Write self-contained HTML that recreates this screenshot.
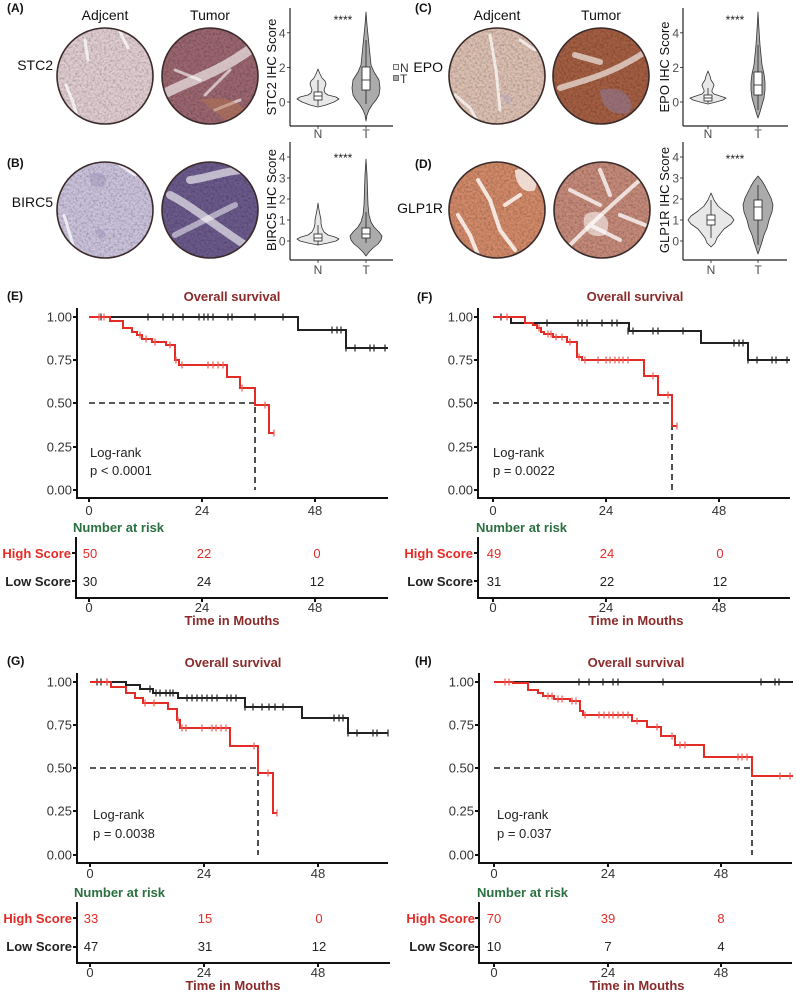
<!DOCTYPE html>
<html><head><meta charset="utf-8"><style>
html,body{margin:0;padding:0;background:#fff;}
svg{display:block;}
text{font-family:"Liberation Sans",Arial,sans-serif;}
.lab{font-size:12px;font-weight:bold;fill:#111;}
.tk{font-size:13px;fill:#333;}
.vt{font-size:12px;fill:#4d4d4d;}
.ttl{font-size:13px;font-weight:bold;fill:#8b2a2a;}
.ax{stroke:#111;stroke-width:2;fill:none;}
.vax{stroke:#222;stroke-width:1.2;fill:none;}
.blk{stroke:#222;stroke-width:2;fill:none;}
.red{stroke:#e42c27;stroke-width:2;fill:none;}
.cb{stroke:#222;stroke-width:1.2;fill:none;}
.cr{stroke:#ee5a55;stroke-width:1.2;fill:none;}
.dash{stroke:#222;stroke-width:1.6;fill:none;stroke-dasharray:6,4;}
.vn{fill:#e8e8e8;stroke:#333;stroke-width:0.8;stroke-linejoin:round;}
.vtm{fill:#ababab;stroke:#333;stroke-width:0.8;stroke-linejoin:round;}
.box{fill:#fff;stroke:#222;stroke-width:0.8;}
.wh{stroke:#222;stroke-width:0.8;}
.hi{font-size:13px;font-weight:bold;fill:#e42c27;}
.lo{font-size:13px;font-weight:bold;fill:#222;}
.nr{font-size:13px;font-weight:bold;fill:#2a7040;}
.rn{font-size:13px;fill:#e42c27;}
.bn{font-size:13px;fill:#222;}
.gene{font-size:14px;fill:#111;}
.hd{font-size:14px;fill:#111;}
.str{fill:none;stroke:#fff;stroke-linecap:round;}
</style></head><body>
<svg width="796" height="992" viewBox="0 0 796 992" xmlns="http://www.w3.org/2000/svg">
<defs>
<filter id="tx" x="0" y="0" width="100%" height="100%">
<feTurbulence type="fractalNoise" baseFrequency="0.45" numOctaves="3" seed="7"/>
<feColorMatrix type="matrix" values="0 0 0 0 0  0 0 0 0 0  0 0 0 0 0  1.0 0 0 0 -0.38"/>
<feComposite in2="SourceGraphic" operator="in"/>
<feComposite in2="SourceGraphic" operator="over"/>
</filter>
<clipPath id="c1"><circle cx="105" cy="76" r="48"/></clipPath>
<clipPath id="c2"><circle cx="210" cy="76" r="48"/></clipPath>
<clipPath id="c3"><circle cx="105" cy="210" r="48"/></clipPath>
<clipPath id="c4"><circle cx="210" cy="210" r="48"/></clipPath>
<clipPath id="c5"><circle cx="497" cy="76" r="48"/></clipPath>
<clipPath id="c6"><circle cx="601" cy="76" r="48"/></clipPath>
<clipPath id="c7"><circle cx="497" cy="210" r="48"/></clipPath>
<clipPath id="c8"><circle cx="602" cy="210" r="48"/></clipPath>
</defs>

<!-- ===== Panel A ===== -->
<text class="lab" x="7" y="12">(A)</text>
<text class="hd" x="105" y="20" text-anchor="middle">Adjcent</text>
<text class="hd" x="210" y="20" text-anchor="middle">Tumor</text>
<text class="gene" x="53" y="70" text-anchor="end">STC2</text>
<g clip-path="url(#c1)"><rect x="57" y="28" width="96" height="96" fill="#e0cdd2" filter="url(#tx)"/>
<path class="str" stroke-width="3" opacity="0.7" d="M66,85 L72,100 L78,118 M85,40 L88,60 M120,32 L128,48"/></g>
<circle cx="105" cy="76" r="48" fill="none" stroke="#3b2b2b" stroke-width="1.6"/>
<g clip-path="url(#c2)"><rect x="162" y="28" width="96" height="96" fill="#9b6670" filter="url(#tx)"/>
<path class="str" stroke="#d8cde0" stroke-width="10" opacity="0.6" d="M168,92 C190,80 215,75 252,48"/>
<path class="str" stroke-width="3" opacity="0.6" d="M175,70 L200,80 M205,95 L230,70 M215,110 L240,100"/>
<path fill="#b8774d" opacity="0.45" d="M200,100 C220,95 240,100 250,115 L230,124 Z"/></g>
<circle cx="210" cy="76" r="48" fill="none" stroke="#3b2b2b" stroke-width="1.6"/>
<!-- violin A -->
<line class="vax" x1="290" y1="8" x2="290" y2="126"/><line class="vax" x1="290" y1="126" x2="393" y2="126"/>
<g class="wh"><line x1="287" y1="102" x2="290" y2="102"/><line x1="287" y1="67.4" x2="290" y2="67.4"/><line x1="287" y1="32.8" x2="290" y2="32.8"/><line x1="318" y1="126" x2="318" y2="129"/><line x1="366" y1="126" x2="366" y2="129"/></g>
<text class="vt" x="285.5" y="106.5" text-anchor="end">0</text><text class="vt" x="285.5" y="72" text-anchor="end">2</text><text class="vt" x="285.5" y="37.3" text-anchor="end">4</text>
<text class="vt" x="318" y="138" text-anchor="middle">N</text><text class="vt" x="366" y="138" text-anchor="middle">T</text>
<text class="hd" style="font-size:13px" transform="translate(276,67) rotate(-90)" text-anchor="middle">STC2 IHC Score</text>
<text x="343" y="24" text-anchor="middle" style="font-size:12px;fill:#222">****</text>
<polygon class="vn" points="318,107 326,105 334,102 339,99 336,97 328,95 325,93 324,90 325,87 326,84 325,81 322,78 320,74 318,69 316,74 314,78 311,81 310,84 311,87 312,90 311,93 308,95 300,97 297,99 302,102 310,105"/>
<polygon class="vtm" points="366,121 367,115 369,110 372,105 376,100 379,95 380,88 379,80 374,72 371,65 370,55 369,45 368,35 367,25 366,12 365,25 364,35 363,45 362,55 361,65 358,72 353,80 352,88 353,95 356,100 360,105 363,110 365,115"/>
<line class="wh" x1="318" y1="80" x2="318" y2="106"/><rect class="box" x="314" y="92" width="8" height="8"/><line class="wh" x1="314" y1="96" x2="322" y2="96"/>
<line class="wh" x1="366" y1="40" x2="366" y2="104"/><rect class="box" x="362" y="67" width="8" height="23"/><line class="wh" x1="362" y1="80" x2="370" y2="80"/>
<!-- legend -->
<rect x="393.5" y="64.5" width="5" height="5" fill="#eee" stroke="#555" stroke-width="0.8"/>
<rect x="393.5" y="75.5" width="5" height="5" fill="#aaa" stroke="#555" stroke-width="0.8"/>
<text x="400" y="72" style="font-size:12px;fill:#333">N</text><text x="400" y="83" style="font-size:12px;fill:#333">T</text>

<!-- ===== Panel B ===== -->
<text class="lab" x="7" y="167">(B)</text>
<text class="gene" x="53" y="207" text-anchor="end">BIRC5</text>
<g clip-path="url(#c3)"><rect x="57" y="162" width="96" height="96" fill="#cbc3dc" filter="url(#tx)"/>
<path class="str" stroke-width="3" opacity="0.7" d="M64,215 L70,235 L75,252 M120,165 L135,175"/>
<path fill="#8e80b0" opacity="0.35" d="M90,175 C100,170 110,175 105,185 C98,190 88,185 90,175 Z M95,230 C105,228 110,235 100,240 Z"/></g>
<circle cx="105" cy="210" r="48" fill="none" stroke="#3b2b2b" stroke-width="1.6"/>
<g clip-path="url(#c4)"><rect x="162" y="162" width="96" height="96" fill="#6b5a8c" filter="url(#tx)"/>
<path class="str" stroke="#b4b0d6" stroke-width="8" opacity="0.6" d="M170,195 C190,205 210,222 245,245 M190,180 C210,178 230,168 255,170"/>
<path class="str" stroke="#a8a0cc" stroke-width="6" opacity="0.5" d="M175,235 C195,225 215,215 235,205"/></g>
<circle cx="210" cy="210" r="48" fill="none" stroke="#3b2b2b" stroke-width="1.6"/>
<!-- violin B -->
<line class="vax" x1="290" y1="142" x2="290" y2="260"/><line class="vax" x1="290" y1="260" x2="393" y2="260"/>
<g class="wh"><line x1="287" y1="241" x2="290" y2="241"/><line x1="287" y1="220" x2="290" y2="220"/><line x1="287" y1="199" x2="290" y2="199"/><line x1="287" y1="178" x2="290" y2="178"/><line x1="287" y1="157" x2="290" y2="157"/><line x1="318" y1="260" x2="318" y2="263"/><line x1="366" y1="260" x2="366" y2="263"/></g>
<text class="vt" x="285.5" y="245.5" text-anchor="end">0</text><text class="vt" x="285.5" y="224.5" text-anchor="end">1</text><text class="vt" x="285.5" y="203.5" text-anchor="end">2</text><text class="vt" x="285.5" y="182.5" text-anchor="end">3</text><text class="vt" x="285.5" y="161.5" text-anchor="end">4</text>
<text class="vt" x="318" y="274" text-anchor="middle">N</text><text class="vt" x="366" y="274" text-anchor="middle">T</text>
<text class="hd" style="font-size:13px" transform="translate(276,200) rotate(-90)" text-anchor="middle">BIRC5 IHC Score</text>
<text x="343" y="162" text-anchor="middle" style="font-size:12px;fill:#222">****</text>
<polygon class="vn" points="318,245 328,243 336,241 339,239 335,237 328,235 324,232 322,228 321,224 321,220 320,215 319,210 318,203 317,210 316,215 315,220 315,224 314,228 312,232 308,235 301,237 297,239 300,241 308,243"/>
<polygon class="vtm" points="366,256 369,252 373,248 378,244 381,240 382,236 379,232 374,227 371,222 369,215 368,205 367.5,190 367,175 366,159 365,175 364.5,190 364,205 363,215 361,222 358,227 353,232 350,236 351,240 354,244 359,248 363,252"/>
<line class="wh" x1="318" y1="225" x2="318" y2="245"/><rect class="box" x="314" y="234" width="8" height="7"/><line class="wh" x1="314" y1="238" x2="322" y2="238"/>
<line class="wh" x1="366" y1="212" x2="366" y2="243"/><rect class="box" x="362" y="228" width="8" height="10"/><line class="wh" x1="362" y1="234" x2="370" y2="234"/>

<!-- ===== Panel C ===== -->
<text class="lab" x="415" y="12">(C)</text>
<text class="hd" x="497" y="20" text-anchor="middle">Adjcent</text>
<text class="hd" x="601" y="20" text-anchor="middle">Tumor</text>
<text class="gene" x="443" y="72" text-anchor="end">EPO</text>
<g clip-path="url(#c5)"><rect x="449" y="28" width="96" height="96" fill="#dcc0b2" filter="url(#tx)"/>
<path class="str" stroke-width="3" opacity="0.7" d="M455,95 L470,108 L478,122 M490,35 L496,70 L500,110 M520,40 L535,50"/>
<path fill="#a9a0c8" opacity="0.35" d="M500,95 C510,92 515,100 508,105 Z"/></g>
<circle cx="497" cy="76" r="48" fill="none" stroke="#3b2b2b" stroke-width="1.6"/>
<g clip-path="url(#c6)"><rect x="553" y="28" width="96" height="96" fill="#a45e42" filter="url(#tx)"/>
<path class="str" stroke="#e6dbe6" stroke-width="6" opacity="0.6" d="M560,88 C585,80 610,75 645,52 M575,55 L600,62"/>
<path fill="#8a80b0" opacity="0.45" d="M600,90 C620,85 635,95 630,112 C615,118 600,108 600,90 Z"/></g>
<circle cx="601" cy="76" r="48" fill="none" stroke="#3b2b2b" stroke-width="1.6"/>
<!-- violin C -->
<line class="vax" x1="683" y1="8" x2="683" y2="126"/><line class="vax" x1="683" y1="126" x2="788" y2="126"/>
<g class="wh"><line x1="680" y1="102" x2="683" y2="102"/><line x1="680" y1="67.4" x2="683" y2="67.4"/><line x1="680" y1="32.8" x2="683" y2="32.8"/><line x1="708" y1="126" x2="708" y2="129"/><line x1="758" y1="126" x2="758" y2="129"/></g>
<text class="vt" x="679" y="106.5" text-anchor="end">0</text><text class="vt" x="679" y="72" text-anchor="end">2</text><text class="vt" x="679" y="37.3" text-anchor="end">4</text>
<text class="vt" x="708" y="138" text-anchor="middle">N</text><text class="vt" x="758" y="138" text-anchor="middle">T</text>
<text class="hd" style="font-size:13px" transform="translate(669,67) rotate(-90)" text-anchor="middle">EPO IHC Score</text>
<text x="735" y="24" text-anchor="middle" style="font-size:12px;fill:#222">****</text>
<polygon class="vn" points="708,104 716,102 723,100 726,98 720,96 714,94 712,92 712,90 713,88 714,85 713,83 711,80 710,76 708,71 706,76 705,80 703,83 702,85 703,88 704,90 704,92 702,94 696,96 690,98 693,100 700,102"/>
<polygon class="vtm" points="758,118 760,112 762,105 764,98 765,90 765,82 764,74 762,65 761,55 760,45 759,30 758,12 757,30 756,45 755,55 754,65 752,74 751,82 751,90 752,98 754,105 756,112"/>
<line class="wh" x1="708" y1="88" x2="708" y2="103"/><rect class="box" x="704" y="95" width="8" height="6"/><line class="wh" x1="704" y1="98" x2="712" y2="98"/>
<line class="wh" x1="758" y1="45" x2="758" y2="110"/><rect class="box" x="754" y="72" width="8" height="23"/><line class="wh" x1="754" y1="85" x2="762" y2="85"/>

<!-- ===== Panel D ===== -->
<text class="lab" x="415" y="168">(D)</text>
<text class="gene" x="443" y="213" text-anchor="end">GLP1R</text>
<g clip-path="url(#c7)"><rect x="449" y="162" width="96" height="96" fill="#d28a69" filter="url(#tx)"/>
<path class="str" stroke-width="4" opacity="0.8" d="M458,215 L470,235 L478,255 M478,180 L490,200 L500,230 L515,250 M505,205 L520,195"/>
<path fill="#fff" opacity="0.7" d="M515,170 C530,165 540,175 535,190 C525,195 515,185 515,170 Z"/></g>
<circle cx="497" cy="210" r="48" fill="none" stroke="#3b2b2b" stroke-width="1.6"/>
<g clip-path="url(#c8)"><rect x="554" y="162" width="96" height="96" fill="#c58a7a" filter="url(#tx)"/>
<path class="str" stroke-width="4" opacity="0.75" d="M565,250 C585,230 600,215 640,180 M570,190 L600,205 M590,225 L620,240 M600,170 L610,195 M620,215 L645,225"/>
<path fill="#fff" opacity="0.55" d="M585,215 C600,205 615,220 605,235 C590,240 580,228 585,215 Z"/></g>
<circle cx="602" cy="210" r="48" fill="none" stroke="#3b2b2b" stroke-width="1.6"/>
<!-- violin D -->
<line class="vax" x1="683" y1="142" x2="683" y2="260"/><line class="vax" x1="683" y1="260" x2="787" y2="260"/>
<g class="wh"><line x1="680" y1="241" x2="683" y2="241"/><line x1="680" y1="220" x2="683" y2="220"/><line x1="680" y1="199" x2="683" y2="199"/><line x1="680" y1="178" x2="683" y2="178"/><line x1="680" y1="157" x2="683" y2="157"/><line x1="711" y1="260" x2="711" y2="263"/><line x1="758" y1="260" x2="758" y2="263"/></g>
<text class="vt" x="679" y="245.5" text-anchor="end">0</text><text class="vt" x="679" y="224.5" text-anchor="end">1</text><text class="vt" x="679" y="203.5" text-anchor="end">2</text><text class="vt" x="679" y="182.5" text-anchor="end">3</text><text class="vt" x="679" y="161.5" text-anchor="end">4</text>
<text class="vt" x="711" y="274" text-anchor="middle">N</text><text class="vt" x="758" y="274" text-anchor="middle">T</text>
<text class="hd" style="font-size:13px" transform="translate(669,200) rotate(-90)" text-anchor="middle">GLP1R IHC Score</text>
<text x="735" y="163" text-anchor="middle" style="font-size:12px;fill:#222">****</text>
<polygon class="vn" points="711,247 715,243 717,238 720,234 724,229 731,224 734,220 731,216 724,211 718,206 714,200 711,193 708,200 704,206 698,211 691,216 688,220 691,224 698,229 702,234 705,238 707,243"/>
<polygon class="vtm" points="758,254 760,248 762,242 764,235 767,228 769,220 772,212 773,205 771,198 768,192 765,186 762,181 758,176 754,181 751,186 748,192 745,198 743,205 744,212 747,220 749,228 752,235 754,242 756,248"/>
<line class="wh" x1="711" y1="200" x2="711" y2="238"/><rect class="box" x="707" y="215" width="8" height="10"/><line class="wh" x1="707" y1="220" x2="715" y2="220"/>
<line class="wh" x1="758" y1="185" x2="758" y2="245"/><rect class="box" x="754" y="200" width="8" height="20"/><line class="wh" x1="754" y1="207" x2="762" y2="207"/>

<!-- ===== Panel E ===== -->
<text class="lab" x="7" y="300">(E)</text>
<text class="ttl" x="232" y="301" text-anchor="middle">Overall survival</text>
<path class="ax" d="M77,308 V498 H388"/>
<path class="ax" stroke-width="1.2" d="M73,317h4 M73,360h4 M73,403h4 M73,447h4 M73,490h4 M89,498v4 M202,498v4 M315,498v4"/>
<text class="tk" x="72" y="321.5" text-anchor="end">1.00</text><text class="tk" x="72" y="364.5" text-anchor="end">0.75</text><text class="tk" x="72" y="407.5" text-anchor="end">0.50</text><text class="tk" x="72" y="451.5" text-anchor="end">0.25</text><text class="tk" x="72" y="494.5" text-anchor="end">0.00</text>
<text class="tk" x="89" y="515" text-anchor="middle">0</text><text class="tk" x="202" y="515" text-anchor="middle">24</text><text class="tk" x="315" y="515" text-anchor="middle">48</text>
<path class="dash" d="M89,403 H255 V490"/>
<path class="blk" d="M89,317 H298 V330 H346 V348 H388"/>
<path class="cb" d="M101,313.5v7M148,313.5v7M163,313.5v7M173,313.5v7M183,313.5v7M199,313.5v7M204,313.5v7M208,313.5v7M213,313.5v7M228,313.5v7M232,313.5v7M255,313.5v7M283,313.5v7M332,326.5v7M337,326.5v7M341,326.5v7M346,344.5v7M355,344.5v7M370,344.5v7M374,344.5v7M385,344.5v7"/>
<path class="red" d="M89,317 H110 V321 H123 V328 H132 V332 H137 V335 H142 V339 H152 V342 H166 V345 H175 V360 H179 V365 H227 V377 H240 V388 H255 V405 H269 V433 H274"/>
<path class="cr" d="M99,313.5v7M104,313.5v7M140,331.5v7M146,335.5v7M155,338.5v7M170,341.5v7M176,356.5v7M182,361.5v7M208,361.5v7M213,361.5v7M218,361.5v7M223,361.5v7M242,384.5v7M265,401.5v7M274,429.5v7"/>
<text class="tk" style="fill:#222" x="90" y="457">Log-rank</text>
<text class="tk" style="fill:#222" x="90" y="475">p &lt; 0.0001</text>
<!-- E table -->
<text class="nr" x="73" y="532">Number at risk</text>
<path class="ax" d="M76,537 V598 H388"/>
<path class="ax" stroke-width="1.2" d="M72,553h4 M72,581h4 M89,598v4 M202,598v4 M315,598v4"/>
<text class="hi" x="71" y="558" text-anchor="end">High Score</text><text class="lo" x="71" y="586" text-anchor="end">Low Score</text>
<text class="rn" x="90" y="558" text-anchor="middle">50</text><text class="rn" x="204" y="558" text-anchor="middle">22</text><text class="rn" x="317" y="558" text-anchor="middle">0</text>
<text class="bn" x="90" y="586" text-anchor="middle">30</text><text class="bn" x="204" y="586" text-anchor="middle">24</text><text class="bn" x="317" y="586" text-anchor="middle">12</text>
<text class="tk" x="89" y="612" text-anchor="middle">0</text><text class="tk" x="202" y="612" text-anchor="middle">24</text><text class="tk" x="315" y="612" text-anchor="middle">48</text>
<text class="ttl" x="232" y="625" text-anchor="middle">Time in Mouths</text>

<!-- ===== Panel F ===== -->
<text class="lab" x="417" y="301">(F)</text>
<text class="ttl" x="635" y="301" text-anchor="middle">Overall survival</text>
<path class="ax" d="M478,308 V498 H790"/>
<path class="ax" stroke-width="1.2" d="M474,317h4 M474,360h4 M474,403h4 M474,447h4 M474,490h4 M493,498v4 M606,498v4 M719,498v4"/>
<text class="tk" x="473" y="321.5" text-anchor="end">1.00</text><text class="tk" x="473" y="364.5" text-anchor="end">0.75</text><text class="tk" x="473" y="407.5" text-anchor="end">0.50</text><text class="tk" x="473" y="451.5" text-anchor="end">0.25</text><text class="tk" x="473" y="494.5" text-anchor="end">0.00</text>
<text class="tk" x="493" y="515" text-anchor="middle">0</text><text class="tk" x="606" y="515" text-anchor="middle">24</text><text class="tk" x="719" y="515" text-anchor="middle">48</text>
<path class="dash" d="M493,403 H672 V490"/>
<path class="blk" d="M493,317 H511 V323 H629 V331 H701 V343 H748 V360 H790"/>
<path class="cb" d="M501,313.5v7M547,319.5v7M578,319.5v7M582,319.5v7M587,319.5v7M602,319.5v7M612,319.5v7M617,319.5v7M628,327.5v7M633,327.5v7M653,327.5v7M658,327.5v7M683,327.5v7M734,339.5v7M739,339.5v7M743,339.5v7M748,356.5v7M757,356.5v7M772,356.5v7M776,356.5v7M787,356.5v7"/>
<path class="red" d="M493,317 H525 V323 H533 V325 H537 V328 H541 V332 H544 V334 H553 V337 H567 V342 H577 V357 H582 V360 H644 V376 H658 V395 H672 V426 H677"/>
<path class="cr" d="M507,313.5v7M539,324.5v7M548,330.5v7M551,330.5v7M556,333.5v7M562,333.5v7M570,338.5v7M579,353.5v7M585,356.5v7M598,356.5v7M606,356.5v7M610,356.5v7M615,356.5v7M619,356.5v7M623,356.5v7M628,356.5v7M653,372.5v7M668,391.5v7M677,422.5v7"/>
<text class="tk" style="fill:#222" x="493" y="457">Log-rank</text>
<text class="tk" style="fill:#222" x="493" y="475">p = 0.0022</text>
<!-- F table -->
<text class="nr" x="476" y="532">Number at risk</text>
<path class="ax" d="M478,537 V598 H790"/>
<path class="ax" stroke-width="1.2" d="M474,553h4 M474,581h4 M493,598v4 M606,598v4 M719,598v4"/>
<text class="hi" x="473" y="558" text-anchor="end">High Score</text><text class="lo" x="473" y="586" text-anchor="end">Low Score</text>
<text class="rn" x="494" y="558" text-anchor="middle">49</text><text class="rn" x="607" y="558" text-anchor="middle">24</text><text class="rn" x="720" y="558" text-anchor="middle">0</text>
<text class="bn" x="494" y="586" text-anchor="middle">31</text><text class="bn" x="607" y="586" text-anchor="middle">22</text><text class="bn" x="720" y="586" text-anchor="middle">12</text>
<text class="tk" x="493" y="612" text-anchor="middle">0</text><text class="tk" x="606" y="612" text-anchor="middle">24</text><text class="tk" x="719" y="612" text-anchor="middle">48</text>
<text class="ttl" x="636" y="625" text-anchor="middle">Time in Mouths</text>

<!-- ===== Panel G ===== -->
<text class="lab" x="7" y="665">(G)</text>
<text class="ttl" x="233" y="667" text-anchor="middle">Overall survival</text>
<path class="ax" d="M77,673 V863 H388"/>
<path class="ax" stroke-width="1.2" d="M73,682h4 M73,725h4 M73,768h4 M73,811h4 M73,855h4 M90,863v4 M204,863v4 M318,863v4"/>
<text class="tk" x="72" y="686.5" text-anchor="end">1.00</text><text class="tk" x="72" y="729.5" text-anchor="end">0.75</text><text class="tk" x="72" y="772.5" text-anchor="end">0.50</text><text class="tk" x="72" y="815.5" text-anchor="end">0.25</text><text class="tk" x="72" y="859.5" text-anchor="end">0.00</text>
<text class="tk" x="90" y="878" text-anchor="middle">0</text><text class="tk" x="204" y="878" text-anchor="middle">24</text><text class="tk" x="318" y="878" text-anchor="middle">48</text>
<path class="dash" d="M90,768 H258 V855"/>
<path class="blk" d="M90,682 H126 V685 H140 V689 H153 V693 H178 V698 H245 V707 H302 V718 H348 V733 H388"/>
<path class="cb" d="M97,678.5v7M101,678.5v7M107,678.5v7M150,685.5v7M156,689.5v7M160,689.5v7M166,689.5v7M170,689.5v7M173,689.5v7M187,694.5v7M192,694.5v7M197,694.5v7M202,694.5v7M207,694.5v7M212,694.5v7M217,694.5v7M227,694.5v7M231,694.5v7M236,694.5v7M245,703.5v7M253,703.5v7M262,703.5v7M269,703.5v7M275,703.5v7M283,703.5v7M334,714.5v7M339,714.5v7M343,714.5v7M348,729.5v7M357,729.5v7M373,729.5v7M377,729.5v7M388,729.5v7"/>
<path class="red" d="M90,682 H111 V687 H126 V693 H135 V698 H143 V703 H168 V709 H177 V720 H180 V728 H230 V746 H258 V773 H273 V813 H277"/>
<path class="cr" d="M107,678.5v7M145,699.5v7M154,699.5v7M178,716.5v7M182,724.5v7M186,724.5v7M202,724.5v7M212,724.5v7M216,724.5v7M221,724.5v7M226,724.5v7M254,742.5v7M268,769.5v7M277,809.5v7"/>
<text class="tk" style="fill:#222" x="93" y="819">Log-rank</text>
<text class="tk" style="fill:#222" x="93" y="838">p = 0.0038</text>
<!-- G table -->
<text class="nr" x="74" y="897">Number at risk</text>
<path class="ax" d="M77,902 V963 H390"/>
<path class="ax" stroke-width="1.2" d="M73,918h4 M73,947h4 M90,963v4 M204,963v4 M318,963v4"/>
<text class="hi" x="72" y="923" text-anchor="end">High Score</text><text class="lo" x="72" y="951" text-anchor="end">Low Score</text>
<text class="rn" x="91" y="923" text-anchor="middle">33</text><text class="rn" x="205" y="923" text-anchor="middle">15</text><text class="rn" x="319" y="923" text-anchor="middle">0</text>
<text class="bn" x="91" y="951" text-anchor="middle">47</text><text class="bn" x="205" y="951" text-anchor="middle">31</text><text class="bn" x="319" y="951" text-anchor="middle">12</text>
<text class="tk" x="90" y="977" text-anchor="middle">0</text><text class="tk" x="204" y="977" text-anchor="middle">24</text><text class="tk" x="318" y="977" text-anchor="middle">48</text>
<text class="ttl" x="233" y="990" text-anchor="middle">Time in Mouths</text>

<!-- ===== Panel H ===== -->
<text class="lab" x="415" y="665">(H)</text>
<text class="ttl" x="636" y="667" text-anchor="middle">Overall survival</text>
<path class="ax" d="M479,673 V863 H792"/>
<path class="ax" stroke-width="1.2" d="M475,682h4 M475,725h4 M475,768h4 M475,811h4 M475,855h4 M494,863v4 M608,863v4 M721,863v4"/>
<text class="tk" x="474" y="686.5" text-anchor="end">1.00</text><text class="tk" x="474" y="729.5" text-anchor="end">0.75</text><text class="tk" x="474" y="772.5" text-anchor="end">0.50</text><text class="tk" x="474" y="815.5" text-anchor="end">0.25</text><text class="tk" x="474" y="859.5" text-anchor="end">0.00</text>
<text class="tk" x="494" y="878" text-anchor="middle">0</text><text class="tk" x="608" y="878" text-anchor="middle">24</text><text class="tk" x="721" y="878" text-anchor="middle">48</text>
<path class="dash" d="M494,768 H752 V855"/>
<path class="blk" d="M496,682 H793"/>
<path class="cb" d="M579,678.5v7M589,678.5v7M603,678.5v7M613,678.5v7M618,678.5v7M663,678.5v7M761,678.5v7M775,678.5v7M779,678.5v7"/>
<path class="red" d="M494,682 H513 V683 H528 V690 H538 V693 H543 V696 H554 V699 H570 V701 H580 V711 H583 V715 H632 V721 H647 V727 H661 V736 H675 V745 H704 V757 H752 V776 H793"/>
<path class="cr" d="M505,678.5v7M509,678.5v7M548,692.5v7M552,692.5v7M558,695.5v7M562,695.5v7M572,697.5v7M576,697.5v7M585,711.5v7M599,711.5v7M604,711.5v7M609,711.5v7M613,711.5v7M618,711.5v7M623,711.5v7M628,711.5v7M637,717.5v7M657,723.5v7M672,732.5v7M680,741.5v7M685,741.5v7M738,753.5v7M742,753.5v7M747,753.5v7M780,772.5v7M790,772.5v7"/>
<text class="tk" style="fill:#222" x="497" y="819">Log-rank</text>
<text class="tk" style="fill:#222" x="497" y="838">p = 0.037</text>
<!-- H table -->
<text class="nr" x="477" y="897">Number at risk</text>
<path class="ax" d="M479,902 V963 H792"/>
<path class="ax" stroke-width="1.2" d="M475,918h4 M475,947h4 M494,963v4 M608,963v4 M721,963v4"/>
<text class="hi" x="475" y="923" text-anchor="end">High Score</text><text class="lo" x="475" y="951" text-anchor="end">Low Score</text>
<text class="rn" x="494" y="923" text-anchor="middle">70</text><text class="rn" x="608" y="923" text-anchor="middle">39</text><text class="rn" x="721" y="923" text-anchor="middle">8</text>
<text class="bn" x="494" y="951" text-anchor="middle">10</text><text class="bn" x="608" y="951" text-anchor="middle">7</text><text class="bn" x="721" y="951" text-anchor="middle">4</text>
<text class="tk" x="494" y="977" text-anchor="middle">0</text><text class="tk" x="608" y="977" text-anchor="middle">24</text><text class="tk" x="721" y="977" text-anchor="middle">48</text>
<text class="ttl" x="637" y="990" text-anchor="middle">Time in Mouths</text>
</svg>
</body></html>
